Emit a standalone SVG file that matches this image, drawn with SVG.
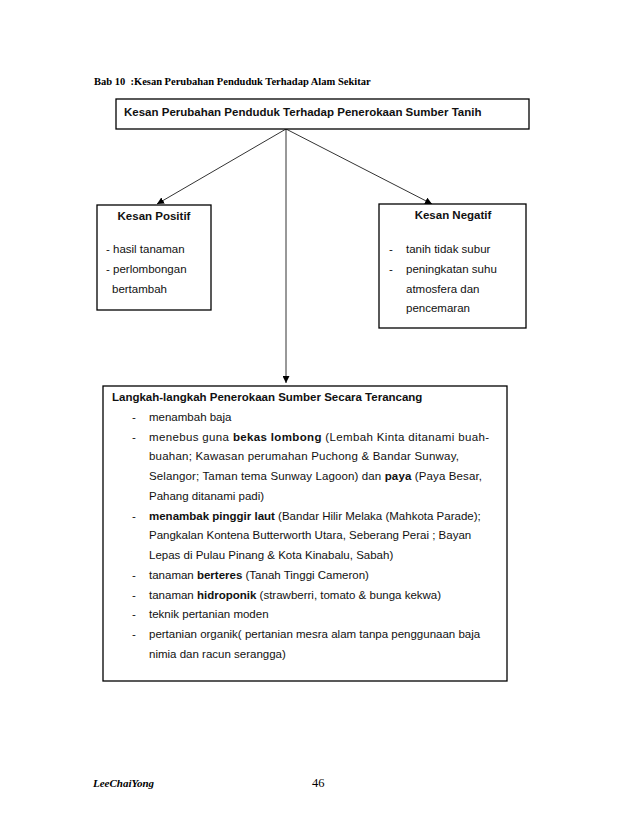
<svg xmlns="http://www.w3.org/2000/svg" width="638" height="826" viewBox="0 0 638 826">
<defs>
<marker id="ah" viewBox="0 0 10 10" refX="10" refY="5" markerWidth="7" markerHeight="7" markerUnits="userSpaceOnUse" orient="auto">
<path d="M0,0 L10,5 L0,10 z" fill="#000"/>
</marker>
<style>
.box{fill:#fff;stroke:#000;stroke-width:1.3}
.t{font-family:"Liberation Sans",Arial,sans-serif;font-size:11.5px;fill:#111}
.b{font-weight:bold}
.hd{font-family:"Liberation Serif","Times New Roman",serif;font-weight:bold;font-size:10.5px;fill:#000;white-space:pre}
.ln{stroke:#333;stroke-width:1;fill:none}
</style>
</defs>
<rect width="638" height="826" fill="#fff"/>
<text class="hd" x="94" y="85" xml:space="preserve">Bab 10  :Kesan Perubahan Penduduk Terhadap Alam Sekitar</text>
<g id="connectors">
<line class="ln" x1="286" y1="129" x2="157" y2="204" marker-end="url(#ah)"/>
<line class="ln" x1="286" y1="129" x2="432" y2="204" marker-end="url(#ah)"/>
<line class="ln" x1="286" y1="129" x2="286" y2="383" stroke="#666" marker-end="url(#ah)"/>
</g>
<g id="top">
<rect class="box" x="116" y="99" width="413" height="30"/>
<text class="t b" x="124" y="116" font-size="12.5">Kesan Perubahan Penduduk Terhadap Penerokaan Sumber Tanih</text>
</g>
<g id="positif">
<rect class="box" x="97" y="205" width="114" height="105"/>
<text class="t b" x="154" y="220" text-anchor="middle">Kesan Positif</text>
<text class="t" x="106" y="253">- hasil tanaman</text>
<text class="t" x="106" y="273">- perlombongan</text>
<text class="t" x="112" y="293">bertambah</text>
</g>
<g id="negatif">
<rect class="box" x="379" y="204" width="147" height="124"/>
<text class="t b" x="453" y="219" text-anchor="middle">Kesan Negatif</text>
<text class="t" x="389" y="253">-</text>
<text class="t" x="406" y="253">tanih tidak subur</text>
<text class="t" x="389" y="273">-</text>
<text class="t" x="406" y="273">peningkatan suhu</text>
<text class="t" x="406" y="293">atmosfera dan</text>
<text class="t" x="406" y="312">pencemaran</text>
</g>
<g id="langkah">
<rect class="box" x="103" y="386" width="404" height="295"/>
<text class="t b" x="112" y="401">Langkah-langkah Penerokaan Sumber Secara Terancang</text>
<g class="t">
<text x="132" y="421">-</text><text x="149" y="421">menambah baja</text>
<text x="132" y="441">-</text><text x="149" y="441" textLength="340" lengthAdjust="spacing">menebus guna <tspan class="b">bekas lombong</tspan> (Lembah Kinta ditanami buah-</text>
<text x="149" y="460" textLength="310" lengthAdjust="spacing">buahan; Kawasan perumahan Puchong &amp; Bandar Sunway,</text>
<text x="149" y="480" textLength="333" lengthAdjust="spacing">Selangor; Taman tema Sunway Lagoon) dan <tspan class="b">paya</tspan> (Paya Besar,</text>
<text x="149" y="500">Pahang ditanami padi)</text>
<text x="132" y="520">-</text><text x="149" y="520"><tspan class="b">menambak pinggir laut</tspan> (Bandar Hilir Melaka (Mahkota Parade);</text>
<text x="149" y="539">Pangkalan Kontena Butterworth Utara, Seberang Perai ; Bayan</text>
<text x="149" y="559">Lepas di Pulau Pinang &amp; Kota Kinabalu, Sabah)</text>
<text x="132" y="579">-</text><text x="149" y="579">tanaman <tspan class="b">berteres</tspan> (Tanah Tinggi Cameron)</text>
<text x="132" y="599">-</text><text x="149" y="599">tanaman <tspan class="b">hidroponik</tspan> (strawberri, tomato &amp; bunga kekwa)</text>
<text x="132" y="618">-</text><text x="149" y="618">teknik pertanian moden</text>
<text x="132" y="638">-</text><text x="149" y="638">pertanian organik( pertanian mesra alam tanpa penggunaan baja</text>
<text x="149" y="658">nimia dan racun serangga)</text>
</g>
</g>
<g id="footer">
<text x="93" y="787" font-family="Liberation Serif,serif" font-weight="bold" font-style="italic" font-size="11">LeeChaiYong</text>
<text x="312" y="787" font-family="Liberation Serif,serif" font-size="12.5">46</text>
</g>
</svg>
